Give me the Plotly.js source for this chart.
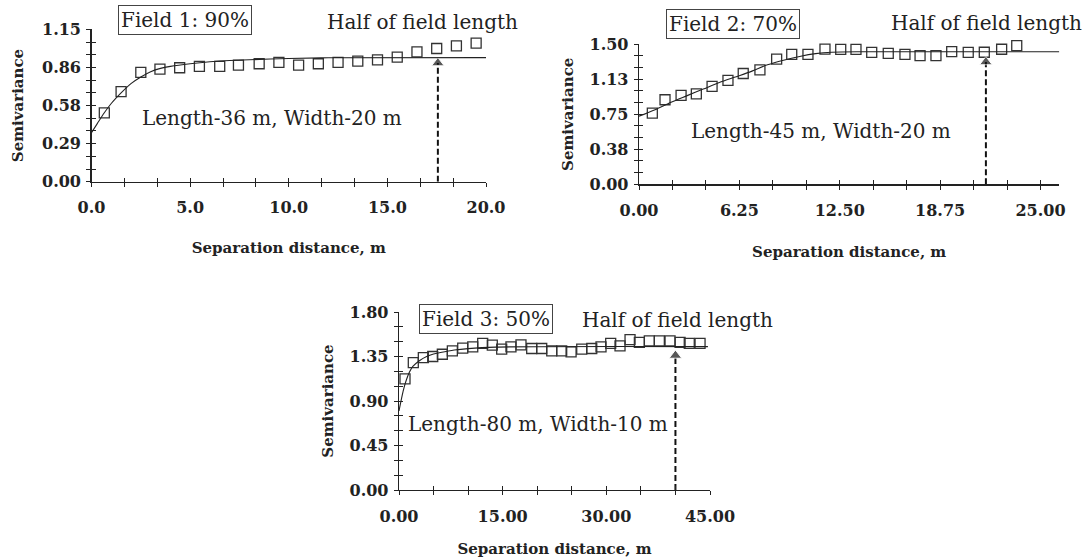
<!DOCTYPE html>
<html>
<head>
<meta charset="utf-8">
<script src="https://cdn.plot.ly/plotly-3.0.1.min.js"></script>
<style>html,body{margin:0;padding:0;background:#fff;}#chart{width:1085px;height:560px;}</style>
</head>
<body>
<div id="chart"></div>
<script>
// ---------- Field 1 ----------
const p1DistX = [0.65,1.5,2.5,3.47,4.47,5.47,6.5,7.45,8.5,9.5,10.5,11.5,12.5,13.5,14.5,15.5,16.5,17.5,18.5,19.5];
const p1Semi  = [0.52,0.68,0.825,0.85,0.86,0.87,0.87,0.88,0.89,0.90,0.88,0.89,0.90,0.91,0.92,0.94,0.98,1.005,1.025,1.045];
const p1ModelX = [0,0.3,0.65,1,1.5,2,2.5,3,3.5,4,5,6,7,8,10,12,20];
const p1ModelY = [0.37,0.44,0.52,0.59,0.67,0.74,0.79,0.83,0.855,0.87,0.89,0.905,0.915,0.92,0.93,0.935,0.936];
const p1ArrowX = [17.56,17.56];
const p1ArrowY = [0,0.895];
const p1XTicks = [0,5,10,15,20];
const p1XLabels = ['0.0','5.0','10.0','15.0','20.0'];
const p1YTicks = [0,0.2875,0.575,0.8625,1.15];
const p1YLabels = ['0.00','0.29','0.58','0.86','1.15'];

// ---------- Field 2 ----------
const p2DistX = [0.83,1.62,2.62,3.57,4.55,5.54,6.49,7.53,8.57,9.51,10.52,11.58,12.56,13.51,14.49,15.52,16.56,17.5,18.49,19.47,20.5,21.5,22.58,23.52];
const p2Semi  = [0.763,0.906,0.953,0.968,1.05,1.114,1.187,1.227,1.341,1.392,1.392,1.449,1.446,1.446,1.413,1.402,1.392,1.378,1.378,1.421,1.413,1.415,1.447,1.486];
const p2ModelX = [0,1,2,3,4,5,6,7,8,9,10,11,12,14,26.17];
const p2ModelY = [0.73,0.80,0.88,0.95,1.02,1.09,1.15,1.21,1.28,1.33,1.37,1.40,1.415,1.42,1.42];
const p2ArrowX = [21.6,21.6];
const p2ArrowY = [0,1.31];
const p2XTicks = [0,6.25,12.5,18.75,25];
const p2XLabels = ['0.00','6.25','12.50','18.75','25.00'];
const p2YTicks = [0,0.375,0.75,1.125,1.5];
const p2YLabels = ['0.00','0.38','0.75','1.13','1.50'];

// ---------- Field 3 ----------
const p3DistX = [0.87,2.07,3.52,4.88,6.27,7.72,9.22,10.67,12.11,13.5,14.86,16.2,17.65,19.2,20.65,22.1,23.54,24.9,26.44,27.89,29.23,30.63,31.98,33.43,34.78,36.22,37.67,39.22,40.67,42,43.56];
const p3Semi  = [1.124,1.288,1.339,1.35,1.373,1.407,1.434,1.448,1.483,1.465,1.424,1.448,1.468,1.431,1.431,1.407,1.407,1.397,1.424,1.431,1.448,1.483,1.458,1.52,1.493,1.509,1.509,1.509,1.493,1.483,1.483];
const p3ModelX = [0,0.6,1,1.5,2,3,4,5,6,8,10,14,44.7];
const p3ModelY = [0.8,1.0,1.1,1.19,1.25,1.31,1.35,1.375,1.39,1.415,1.43,1.445,1.45];
const p3ArrowX = [40.0,40.0];
const p3ArrowY = [0,1.36];
const p3XTicks = [0,15,30,45];
const p3XLabels = ['0.00','15.00','30.00','45.00'];
const p3YTicks = [0,0.45,0.9,1.35,1.8];
const p3YLabels = ['0.00','0.45','0.90','1.35','1.80'];

const fieldLabels = ['Field 1: 90%','Field 2: 70%','Field 3: 50%'];
const sizeLabels = ['Length-36 m, Width-20 m','Length-45 m, Width-20 m','Length-80 m, Width-10 m'];
const halfLabel = 'Half of field length';
const xTitle = 'Separation distance, m';
const yTitle = 'Semivariance';

// ---------- styling ----------
const W = 1085, H = 560;
const INK = '#222';
const SERIF = 'DejaVu Serif, Liberation Serif, serif';
const px = v => v / W;
const py = v => 1 - v / H;

function markerTrace(x, y, xa, ya) {
  return {x, y, xaxis: xa, yaxis: ya, type: 'scatter', mode: 'markers', cliponaxis: false,
    marker: {symbol: 'square-open', size: 10, color: '#333', line: {width: 1.3, color: '#333'}},
    showlegend: false, hoverinfo: 'x+y'};
}
function modelTrace(x, y, xa, ya) {
  return {x, y, xaxis: xa, yaxis: ya, type: 'scatter', mode: 'lines',
    line: {color: INK, width: 1.1, shape: 'spline', smoothing: 0.8},
    showlegend: false, hoverinfo: 'skip'};
}
function arrowTrace(x, y, xa, ya) {
  return {x, y, xaxis: xa, yaxis: ya, type: 'scatter', mode: 'lines+markers', cliponaxis: false,
    line: {color: '#111', width: 2, dash: '6px,3px'},
    marker: {symbol: 'triangle-up', size: [0, 11], color: '#111'},
    showlegend: false, hoverinfo: 'skip'};
}

function xAxis(dom, range, ticks, labels, minorStep, anchor, standoff) {
  return {domain: dom, range: range, anchor: anchor, showgrid: false, zeroline: false,
    showline: true, linecolor: INK, linewidth: 1.3,
    tickmode: 'array', tickvals: ticks, ticktext: labels,
    ticks: 'outside', ticklen: 4, tickwidth: 1, tickcolor: INK,
    minor: {tick0: 0, dtick: minorStep, ticks: 'outside', ticklen: 4, tickwidth: 1, tickcolor: INK},
    tickfont: {family: SERIF, size: 16, color: INK, weight: 'bold'},
    ticklabelstandoff: 7,
    title: {text: xTitle, standoff: standoff, font: {family: SERIF, size: 15, color: INK, weight: 'bold'}},
    fixedrange: true};
}
function yAxis(dom, range, ticks, labels, minorStep, anchor, standoff) {
  return {domain: dom, range: range, anchor: anchor, showgrid: false, zeroline: false,
    showline: true, linecolor: INK, linewidth: 1.3,
    tickmode: 'array', tickvals: ticks, ticktext: labels,
    ticks: 'outside', ticklen: 4, tickwidth: 1, tickcolor: INK,
    minor: {tick0: 0, dtick: minorStep, ticks: 'outside', ticklen: 4, tickwidth: 1, tickcolor: INK},
    tickfont: {family: SERIF, size: 16, color: INK, weight: 'bold'},
    ticklabelstandoff: 2,
    title: {text: yTitle, standoff: standoff, font: {family: SERIF, size: 15, color: INK, weight: 'bold'}},
    fixedrange: true};
}
// overlay axes give the inner half of each tick so ticks cross the axis line
function innerAxis(base, over, anchor) {
  return {overlaying: over, anchor: anchor, range: base.range, showgrid: false, zeroline: false,
    showline: false, showticklabels: false,
    tickmode: 'array', tickvals: base.tickvals,
    ticks: 'inside', ticklen: 4, tickwidth: 1, tickcolor: INK,
    minor: {tick0: 0, dtick: base.minor.dtick, ticks: 'inside', ticklen: 4, tickwidth: 1, tickcolor: INK},
    fixedrange: true};
}

const x1 = xAxis([px(91.5), px(486)], [0, 20], p1XTicks, p1XLabels, 5/3, 'y', 26);
const y1 = yAxis([py(181.7), py(29.3)], [0, 1.15], p1YTicks, p1YLabels, 0.2875/3, 'x', 14);
const x2 = xAxis([px(639), px(1059.3)], [0, 26.17], p2XTicks, p2XLabels, 6.25/3, 'y2', 27);
const y2 = yAxis([py(184.3), py(44.3)], [0, 1.5], p2YTicks, p2YLabels, 0.125, 'x2', 12);
const x3 = xAxis([px(399), px(710)], [0, 45], p3XTicks, p3XLabels, 5, 'y3', 19);
const y3 = yAxis([py(490), py(312)], [0, 1.8], p3YTicks, p3YLabels, 0.15, 'x3', 12);

const data = [
  modelTrace(p1ModelX, p1ModelY, 'x4', 'y4'),
  markerTrace(p1DistX, p1Semi, 'x', 'y'),
  arrowTrace(p1ArrowX, p1ArrowY, 'x', 'y'),
  modelTrace(p2ModelX, p2ModelY, 'x5', 'y5'),
  markerTrace(p2DistX, p2Semi, 'x2', 'y2'),
  arrowTrace(p2ArrowX, p2ArrowY, 'x2', 'y2'),
  modelTrace(p3ModelX, p3ModelY, 'x6', 'y6'),
  markerTrace(p3DistX, p3Semi, 'x3', 'y3'),
  arrowTrace(p3ArrowX, p3ArrowY, 'x3', 'y3')
];

function note(text, cx, cy, boxed, anchor) {
  const a = {text: text, xref: 'paper', yref: 'paper', x: px(cx), y: py(cy),
    xanchor: anchor || 'center', yanchor: 'middle', showarrow: false,
    font: {family: SERIF, size: 20, color: INK}};
  if (boxed) { a.bordercolor = '#444'; a.borderwidth = 1; a.borderpad = 2; a.bgcolor = '#fff'; }
  return a;
}

const layout = {
  width: W, height: H,
  margin: {l: 0, r: 0, t: 0, b: 0},
  paper_bgcolor: '#fff', plot_bgcolor: 'rgba(0,0,0,0)',
  showlegend: false,
  font: {family: SERIF, color: INK},
  xaxis: x1, yaxis: y1, xaxis2: x2, yaxis2: y2, xaxis3: x3, yaxis3: y3,
  xaxis4: innerAxis(x1, 'x', 'y4'), yaxis4: innerAxis(y1, 'y', 'x4'),
  xaxis5: innerAxis(x2, 'x2', 'y5'), yaxis5: innerAxis(y2, 'y2', 'x5'),
  xaxis6: innerAxis(x3, 'x3', 'y6'), yaxis6: innerAxis(y3, 'y3', 'x6'),
  annotations: [
    note(fieldLabels[0], 185, 20, true),
    note(halfLabel, 422, 22, false),
    note(sizeLabels[0], 272, 118, false),
    note(fieldLabels[1], 733, 24, true),
    note(halfLabel, 1084, 23, false, 'right'),
    note(sizeLabels[1], 821, 131, false),
    note(fieldLabels[2], 486, 319, true),
    note(halfLabel, 677, 320, false),
    note(sizeLabels[2], 538, 424, false)
  ]
};

Plotly.newPlot('chart', data, layout, {displayModeBar: false, staticPlot: true});
</script>
</body>
</html>
